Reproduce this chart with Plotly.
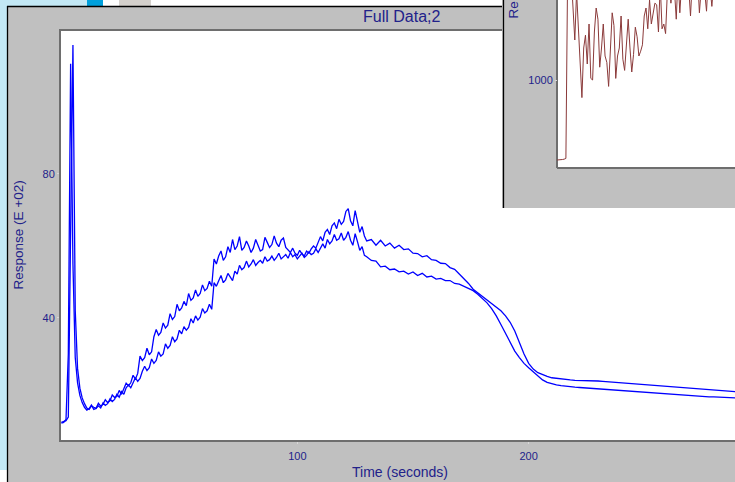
import plotly.graph_objects as go

W, H = 735, 482

# Sample instants in seconds: 1 s steps through the noisy rise, 2 s steps after
t_rise = list(range(-2, 131))
t_decay = list(range(132, 291, 2))
time_s = t_rise + t_decay

# Run 1 (E +02)
resp_a_rise = [
    11.0, 11.2, 11.5, 12.5, 60.0, 115.8, 42.0, 26.0, 20.5, 17.8,
    16.2, 15.0, 14.6, 15.6, 15.2, 14.9, 16.3, 15.5, 16.0, 17.3,
    16.5, 17.0, 18.6, 17.9, 18.2, 19.9, 18.8, 20.4, 21.9, 21.2,
    22.0, 24.1, 23.0, 24.6, 29.4, 28.2, 29.0, 31.6, 29.8, 30.6,
    34.8, 36.8, 35.2, 36.0, 38.6, 37.2, 38.0, 41.2, 39.6, 40.4,
    43.8, 42.0, 42.8, 44.6, 43.4, 46.8, 44.9, 45.6, 47.8, 46.0,
    46.8, 49.2, 47.6, 48.2, 50.2, 48.8, 56.4, 55.0, 57.2, 58.6,
    56.0, 57.0, 59.8, 58.2, 61.8, 59.0, 60.0, 62.6, 58.8, 59.6,
    61.4, 60.0, 58.2, 59.4, 61.8, 60.2, 58.6, 59.0, 62.4, 61.0,
    59.6, 60.4, 62.8, 60.8, 59.8, 61.6, 62.2, 59.6, 59.0, 58.2,
    59.4, 58.0, 57.4, 58.8, 57.8, 57.2, 58.6, 58.0, 59.2, 60.0,
    59.4, 61.2, 62.6, 61.4, 63.8, 64.6, 63.2, 65.6, 66.4, 64.8,
    67.4, 66.0, 66.8, 69.6, 70.4, 67.0, 65.6, 69.8, 66.4, 63.8,
    65.4, 62.8, 61.4,
]
resp_a_decay = [
    61.8, 60.2, 61.6, 60.0, 60.8, 59.4, 60.2, 59.0, 59.2, 58.0,
    57.9, 57.0, 57.3, 56.2, 56.0, 55.2, 55.1, 54.0, 53.5, 52.2,
    51.0, 49.6, 48.0, 47.0, 46.0, 45.2, 44.2, 43.2, 42.0, 40.6,
    38.8, 36.4, 33.2, 30.0, 27.4, 25.8, 24.8, 24.2, 23.8, 23.4,
    23.2, 23.0, 22.9, 22.8, 22.7, 22.7, 22.6, 22.6, 22.5, 22.5,
    22.4, 22.3, 22.2, 22.1, 22.0, 21.9, 21.8, 21.7, 21.6, 21.5,
    21.4, 21.2, 21.1, 21.0, 20.9, 20.8, 20.7, 20.6, 20.5, 20.4,
    20.3, 20.2, 20.1, 20.0, 19.9, 19.8, 19.7, 19.6, 19.6, 19.5,
]

# Run 2 (E +02)
resp_b_rise = [
    10.8, 11.0, 11.8, 30.0, 110.6, 55.0, 29.0, 22.0, 18.5, 16.5,
    15.2, 14.4, 14.8, 15.8, 14.6, 14.9, 15.6, 15.0, 16.4, 15.7,
    16.2, 17.5, 16.8, 17.4, 18.8, 18.0, 19.6, 18.8, 20.6, 21.4,
    20.6, 21.8, 23.4, 22.4, 23.2, 25.2, 26.6, 25.4, 26.2, 28.6,
    27.4, 28.2, 30.6, 29.4, 30.0, 32.8, 31.6, 32.4, 34.8, 33.4,
    34.2, 36.6, 35.6, 37.6, 36.6, 37.4, 39.8, 38.6, 40.6, 39.4,
    40.2, 42.6, 41.4, 42.0, 43.8, 42.4, 49.8, 48.8, 50.6, 51.8,
    49.8, 50.6, 52.4, 51.2, 50.4, 53.0, 52.2, 54.6, 53.4, 54.0,
    55.8, 54.2, 55.0, 56.2, 54.6, 55.4, 56.0, 55.2, 57.0, 55.8,
    56.2, 57.2, 56.0, 56.8, 58.0, 56.4, 57.0, 57.6, 56.6, 58.2,
    57.0, 57.6, 56.4, 57.2, 58.0, 56.8, 57.4, 58.4, 57.6, 58.0,
    59.2, 58.2, 59.6, 60.6, 59.4, 61.8, 60.6, 61.4, 63.2, 61.6,
    62.0, 63.6, 61.6, 62.4, 64.0, 61.6, 60.2, 63.4, 61.2, 58.8,
    59.8, 57.4, 57.0,
]
resp_b_decay = [
    56.0, 55.8, 54.2, 54.4, 53.4, 53.6, 52.8, 53.0, 52.2, 52.8,
    51.8, 52.4, 51.4, 51.6, 50.8, 51.0, 50.4, 50.4, 49.6, 49.4,
    48.8, 48.2, 47.6, 46.6, 45.4, 44.2, 42.6, 40.6, 38.2, 35.6,
    33.0, 30.8, 29.0, 27.4, 26.2, 25.0, 23.8, 22.8, 22.1, 21.7,
    21.4, 21.2, 21.0, 20.9, 20.8, 20.7, 20.6, 20.5, 20.4, 20.3,
    20.2, 20.1, 20.0, 19.9, 19.8, 19.7, 19.6, 19.5, 19.4, 19.3,
    19.2, 19.1, 19.0, 18.9, 18.8, 18.8, 18.7, 18.6, 18.5, 18.4,
    18.4, 18.3, 18.2, 18.1, 18.1, 18.0, 18.0, 17.9, 17.9, 17.8,
]

# Raw detector trace in the second window
inset_t = list(range(0, 101))
inset_resp = [
    500, 500, 502, 503, 505, 510, 1700, 1800, 1650, 1400,
    1250, 1550, 1300, 1050, 890, 1200, 1280, 1100, 1350, 1010,
    1000, 1300, 1450, 1380, 1080, 1200, 1350, 1150, 1110, 960,
    1250, 1420, 1340, 1010, 1150, 1200, 1400, 1130, 1060, 1250,
    1380, 1200, 1050, 1160, 1330, 1270, 1150, 1180, 1220, 1400,
    1450, 1320, 1500, 1350, 1420, 1480, 1470, 1300, 1600, 1320,
    1350, 1290, 1550, 1620, 1480, 1600, 1560, 1380, 1650, 1420,
    1600, 1700, 1550, 1650, 1580, 1400, 1620, 1700, 1560, 1650,
    1420, 1600, 1720, 1550, 1430, 1640, 1580, 1460, 1700, 1750,
    1520, 1680, 1600, 1800, 1520, 1650, 1700, 1560, 1720, 1640,
    1700,
]

x_ticks = [100, 200]
y_ticks = [40, 80]
inset_y_ticks = [1000]

NAVY = "#22228a"
FONT = "Liberation Sans, Arial, sans-serif"
GREY = "#c0c0c0"
FRAME = "#6e6e6e"


def fx(p):
    return p / W


def fy(p):
    return 1 - p / H


fig = go.Figure()

fig.add_trace(go.Scatter(
    x=time_s, y=resp_a_rise + resp_a_decay, mode="lines",
    line=dict(color="#0000ff", width=1.3), xaxis="x", yaxis="y",
    showlegend=False, hoverinfo="skip",
))
fig.add_trace(go.Scatter(
    x=time_s, y=resp_b_rise + resp_b_decay, mode="lines",
    line=dict(color="#0000ff", width=1.3), xaxis="x", yaxis="y",
    showlegend=False, hoverinfo="skip",
))
fig.add_trace(go.Scatter(
    x=inset_t, y=inset_resp, mode="lines",
    line=dict(color="#8b3a3a", width=1), xaxis="x2", yaxis="y2",
    showlegend=False, hoverinfo="skip",
))

shapes = []


def paper_rect(x0, y0, x1, y1, color, layer="below"):
    shapes.append(dict(type="rect", xref="paper", yref="paper",
                       x0=fx(x0), x1=fx(x1), y0=fy(y1), y1=fy(y0),
                       fillcolor=color, line=dict(width=0), layer=layer))


def paper_line(x0, y0, x1, y1, color, width, layer="below"):
    shapes.append(dict(type="line", xref="paper", yref="paper",
                       x0=fx(x0), x1=fx(x1), y0=fy(y0), y1=fy(y1),
                       line=dict(color=color, width=width), layer=layer))


# desktop strip and taskbar pieces around the window
paper_rect(0, 0, 7, 470, "#c3e8f5")
paper_rect(0, 470, 7, 482, "#ffffff")
paper_rect(0, 0, 87, 6, "#c3e8f5")
paper_rect(87, 0, 103, 6, "#00a0dc")
paper_rect(103, 0, 119, 6, "#ffffff")
paper_rect(119, 0, 151, 6, "#d4d0cc")
paper_rect(151, 0, 503, 6, "#ffffff")
# window border
paper_line(7.5, 6, 7.5, 482, "#000000", 1.3)
paper_line(7, 6.5, 503, 6.5, "#000000", 1.3)


# second window, drawn inside the x2/y2 subplot so it sits above the main traces
def inset_shape(**kw):
    d = dict(xref="x2", yref="y2", layer="below")
    d.update(kw)
    shapes.append(d)


inset_shape(type="rect", x0=-40, x1=110, y0=100, y1=1700,
            fillcolor=GREY, line=dict(width=0))
inset_shape(type="rect", x0=0, x1=110, y0=450, y1=1700,
            fillcolor="#ffffff", line=dict(width=0))
inset_shape(type="line", x0=0, x1=0, y0=450, y1=1700,
            line=dict(color=FRAME, width=2))
inset_shape(type="line", x0=0, x1=110, y0=450, y1=450,
            line=dict(color=FRAME, width=2))
inset_shape(type="line", x0=-30.06, x1=-30.06, y0=100, y1=1700,
            line=dict(color="#000000", width=1.3))

annotations = [
    dict(text="Full Data;2", x=fx(401), y=fy(17), xref="paper", yref="paper",
         xanchor="center", yanchor="middle", showarrow=False,
         font=dict(family=FONT, size=16, color=NAVY)),
    dict(text="Time (seconds)", x=fx(400), y=fy(472), xref="paper", yref="paper",
         xanchor="center", yanchor="middle", showarrow=False,
         font=dict(family=FONT, size=14, color=NAVY)),
    dict(text="Response (E +02)", x=fx(17.5), y=fy(235), xref="paper", yref="paper",
         xanchor="center", yanchor="middle", showarrow=False, textangle=-90,
         font=dict(family=FONT, size=13.5, color=NAVY)),
    dict(text="Re", x=fx(513), y=fy(21), xref="paper", yref="paper",
         xanchor="center", yanchor="bottom", showarrow=False, textangle=-90,
         font=dict(family=FONT, size=13.5, color=NAVY)),
]

fig.update_layout(
    width=W, height=H,
    margin=dict(l=0, r=0, t=0, b=0),
    paper_bgcolor=GREY,
    plot_bgcolor="#ffffff",
    showlegend=False,
    shapes=shapes,
    annotations=annotations,
    xaxis=dict(
        domain=[fx(61), 1], range=[-2.16, 289.2],
        tickvals=x_ticks, ticks="outside", ticklen=2, tickcolor="#d8d8d8",
        ticklabelstandoff=3,
        showline=True, mirror=True, linecolor=FRAME, linewidth=2,
        showgrid=False, zeroline=False, automargin=False,
        tickfont=dict(family=FONT, size=11, color=NAVY),
    ),
    yaxis=dict(
        domain=[fy(440), fy(31)], range=[6.11, 119.72],
        tickvals=y_ticks, ticks="outside", ticklen=2, tickcolor="#d8d8d8",
        showline=True, linecolor=FRAME, linewidth=2,
        showgrid=False, zeroline=False, automargin=False,
        tickfont=dict(family=FONT, size=11, color=NAVY),
    ),
    xaxis2=dict(
        domain=[fx(502), 1], range=[-30.899, 100], anchor="y2",
        showticklabels=False, ticks="", showline=False,
        showgrid=False, zeroline=False, automargin=False,
    ),
    yaxis2=dict(
        domain=[fy(208), 1], range=[200, 1500], anchor="free", position=fx(557),
        tickvals=inset_y_ticks, ticks="outside", ticklen=2, tickcolor="#d8d8d8",
        showline=False, showgrid=False, zeroline=False, automargin=False,
        tickfont=dict(family=FONT, size=11, color=NAVY),
    ),
)

fig.write_html("out.html", config={"displayModeBar": False})
